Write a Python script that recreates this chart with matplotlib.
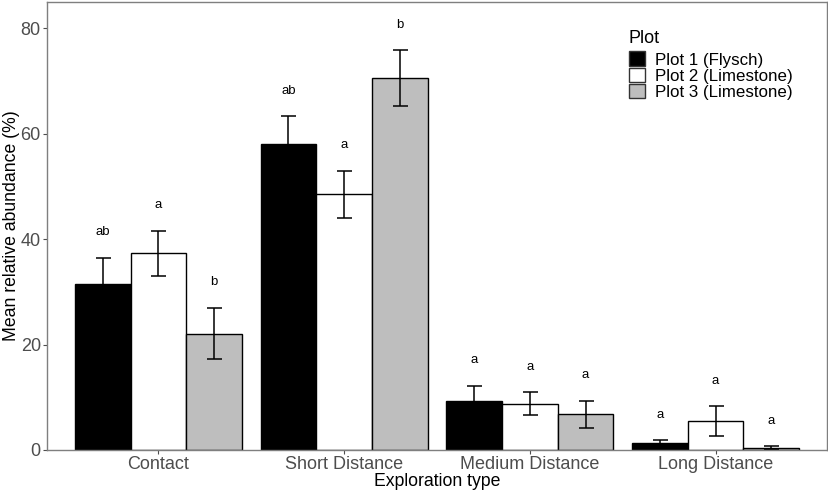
import numpy as np
import matplotlib
matplotlib.use("Agg")
import matplotlib.pyplot as plt
from matplotlib.patches import Patch

plt.rcParams['font.family'] = ['Liberation Sans', 'DejaVu Sans']

categories = ["Contact", "Short Distance", "Medium Distance", "Long Distance"]
plots = ["Plot 1 (Flysch)", "Plot 2 (Limestone)", "Plot 3 (Limestone)"]
colors = ["#000000", "#ffffff", "#bebebe"]

means = [
    [31.4, 58.0, 9.35, 1.26],   # Plot 1
    [37.3, 48.5, 8.8, 5.5],     # Plot 2
    [22.1, 70.5, 6.8, 0.4],     # Plot 3
]
errors = [
    [5.1, 5.4, 2.85, 0.65],
    [4.3, 4.5, 2.2, 2.8],
    [4.9, 5.3, 2.55, 0.3],
]
letters = [
    ["ab", "ab", "a", "a"],
    ["a", "a", "a", "a"],
    ["b", "b", "a", "a"],
]

fig = plt.figure(figsize=(8.29, 4.94), dpi=100)
ax = fig.add_axes([0.0567, 0.0891, 0.9409, 0.9069])

x = np.arange(1, len(categories) + 1)
width = 0.3
for i in range(3):
    pos = x + (i - 1) * width
    ax.bar(pos, means[i], width=width, color=colors[i], edgecolor="black", linewidth=1.0, zorder=2)
    ax.errorbar(pos, means[i], yerr=errors[i], fmt="none", ecolor="black",
                elinewidth=1.1, capsize=5.4, capthick=1.1, zorder=3)
    for p, m, e, t in zip(pos, means[i], errors[i], letters[i]):
        ax.text(p, m + e + 4.8, t, ha="center", va="center", fontsize=9.5, color="black")

ax.set_xlim(0.4, 4.6)
ax.set_ylim(0, 85)
ax.set_xticks(x)
ax.set_xticklabels(categories)
ax.set_yticks([0, 20, 40, 60, 80])
ax.tick_params(axis="both", labelsize=13, colors="#4d4d4d", length=3, width=0.8, pad=1.5)
for lbl in ax.get_xticklabels() + ax.get_yticklabels():
    lbl.set_color("#4d4d4d")
ax.set_xlabel("Exploration type", fontsize=12.7, labelpad=0)
ax.set_ylabel("Mean relative abundance (%)", fontsize=12.7, labelpad=0.5)
for s in ax.spines.values():
    s.set_color("#7f7f7f")
    s.set_linewidth(1.0)

handles = [Patch(facecolor=c, edgecolor="#333333", linewidth=1.0) for c in colors]
leg = ax.legend(handles, plots, title="Plot", loc="upper left", bbox_to_anchor=(0.737, 0.952),
                frameon=False, fontsize=12.2, title_fontsize=13, labelspacing=0.0,
                handlelength=0.95, handleheight=0.95, handletextpad=0.6, borderaxespad=0)
leg._legend_box.align = "left"
leg._legend_box.sep = 3

fig.savefig("out.png", dpi=100)
